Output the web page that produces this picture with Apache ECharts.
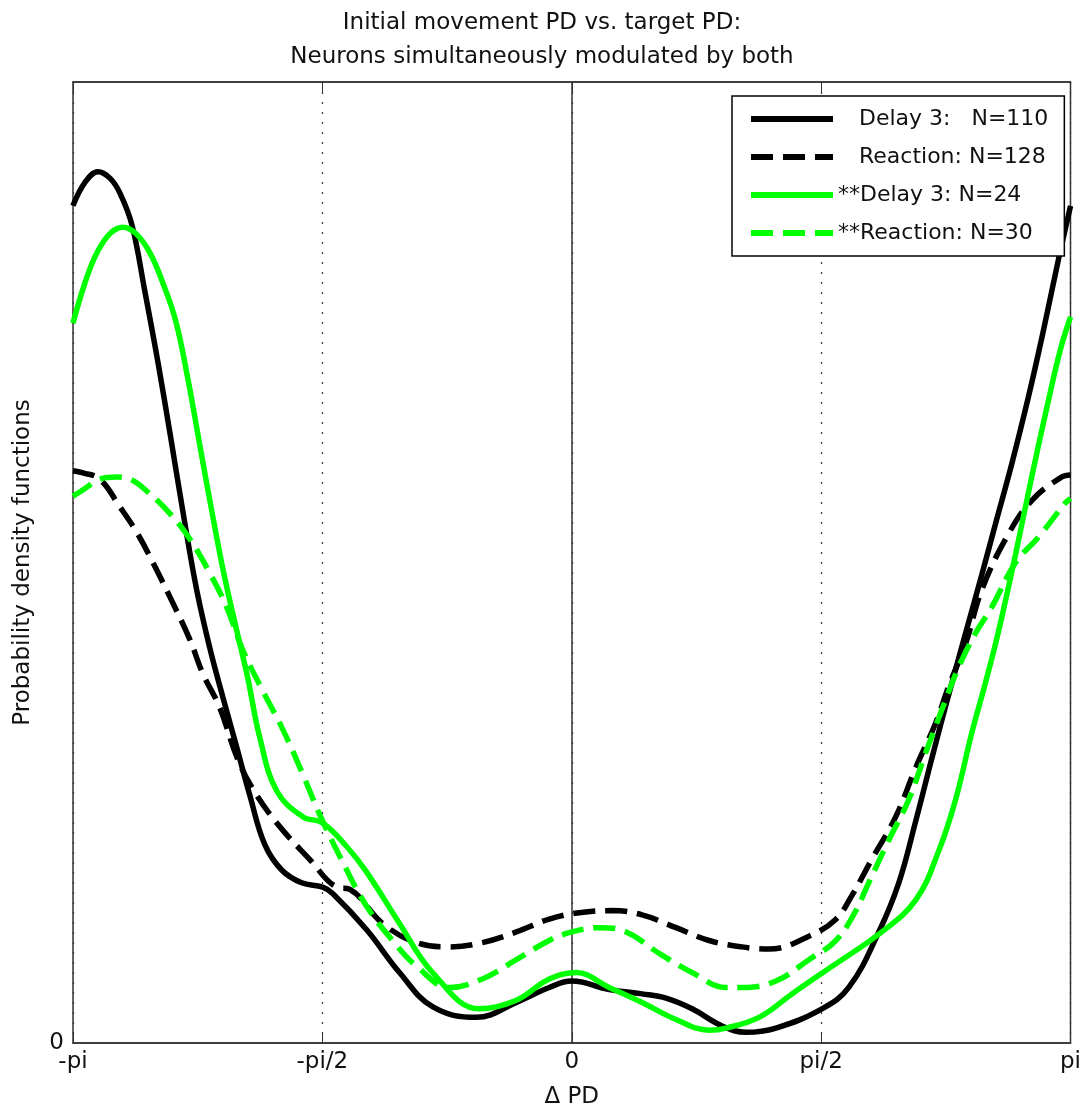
<!DOCTYPE html>
<html>
<head>
<meta charset="utf-8">
<script src="https://cdn.jsdelivr.net/npm/echarts@6/dist/echarts.min.js"></script>
<style>
  html, body { margin: 0; padding: 0; background: #fff; }
  #main { width: 1084px; height: 1114px; }
</style>
</head>
<body>
<div id="main"></div>
<script>
// x in radians (delta PD), y = probability density
const delay3 = [
    [-3.142, 0.392], [-3.066, 0.403], [-2.984, 0.408], [-2.909, 0.405], [-2.846, 0.398],
    [-2.770, 0.383], [-2.689, 0.352], [-2.607, 0.319], [-2.525, 0.283], [-2.443, 0.246],
    [-2.362, 0.212], [-2.280, 0.185], [-2.198, 0.162], [-2.116, 0.140], [-2.028, 0.116],
    [-1.934, 0.093], [-1.827, 0.081], [-1.701, 0.075], [-1.569, 0.073], [-1.506, 0.070],
    [-1.292, 0.053], [-1.085, 0.033], [-0.877, 0.017], [-0.601, 0.012], [-0.349, 0.019],
    [-0.142, 0.026], [0, 0.029], [0.236, 0.025], [0.443, 0.023], [0.594, 0.021],
    [0.758, 0.016], [0.947, 0.008], [1.098, 0.005], [1.286, 0.007], [1.576, 0.016],
    [1.745, 0.026], [1.934, 0.052], [2.060, 0.075], [2.167, 0.104], [2.267, 0.133],
    [2.374, 0.163], [2.481, 0.192], [2.582, 0.219], [2.676, 0.245], [2.771, 0.271],
    [2.878, 0.303], [2.972, 0.334], [3.066, 0.367], [3.142, 0.392]
];
const reaction = [
    [-3.142, 0.268], [-3.079, 0.267], [-2.972, 0.264], [-2.846, 0.251], [-2.739, 0.239],
    [-2.638, 0.225], [-2.532, 0.209], [-2.406, 0.189], [-2.324, 0.173], [-2.217, 0.157],
    [-2.110, 0.134], [-2.009, 0.119], [-1.858, 0.103], [-1.651, 0.086], [-1.481, 0.073],
    [-1.399, 0.072], [-1.192, 0.056], [-0.978, 0.047], [-0.770, 0.045], [-0.563, 0.047],
    [-0.349, 0.052], [-0.142, 0.058], [0.047, 0.061], [0.255, 0.062], [0.443, 0.060],
    [0.657, 0.054], [0.865, 0.048], [1.072, 0.045], [1.242, 0.044], [1.494, 0.050],
    [1.664, 0.058], [1.764, 0.069], [1.890, 0.086], [2.041, 0.106], [2.167, 0.129],
    [2.293, 0.150], [2.374, 0.167], [2.481, 0.187], [2.582, 0.212], [2.733, 0.236],
    [2.897, 0.254], [3.085, 0.265], [3.142, 0.266]
];
const delay3Both = [
    [-3.142, 0.337], [-3.066, 0.356], [-2.991, 0.370], [-2.909, 0.379], [-2.827, 0.382],
    [-2.745, 0.379], [-2.657, 0.370], [-2.576, 0.356], [-2.494, 0.338], [-2.418, 0.311],
    [-2.343, 0.280], [-2.267, 0.249], [-2.192, 0.220], [-2.116, 0.195], [-2.041, 0.171],
    [-1.965, 0.143], [-1.858, 0.118], [-1.695, 0.106], [-1.569, 0.103], [-1.418, 0.092],
    [-1.292, 0.080], [-1.085, 0.056], [-0.877, 0.033], [-0.582, 0.016], [-0.349, 0.020],
    [-0.142, 0.030], [0.028, 0.033], [0.236, 0.026], [0.443, 0.019], [0.657, 0.011],
    [0.865, 0.006], [0.972, 0.007], [1.179, 0.012], [1.387, 0.023], [1.601, 0.034],
    [1.953, 0.052], [2.167, 0.067], [2.312, 0.090], [2.418, 0.114], [2.519, 0.145],
    [2.607, 0.169], [2.689, 0.193], [2.796, 0.229], [2.897, 0.265], [3.003, 0.301],
    [3.079, 0.325], [3.142, 0.340]
];
const reactionBoth = [
    [-3.142, 0.256], [-3.079, 0.259], [-2.972, 0.264], [-2.865, 0.265], [-2.783, 0.264],
    [-2.701, 0.260], [-2.532, 0.248], [-2.406, 0.236], [-2.280, 0.220], [-2.173, 0.204],
    [-2.072, 0.184], [-1.947, 0.165], [-1.821, 0.147], [-1.695, 0.126], [-1.588, 0.107],
    [-1.431, 0.083], [-1.292, 0.064], [-1.129, 0.048], [-0.978, 0.036], [-0.770, 0.026],
    [-0.563, 0.030], [-0.349, 0.039], [-0.142, 0.048], [0, 0.052], [0.173, 0.054],
    [0.343, 0.052], [0.550, 0.042], [0.758, 0.033], [0.972, 0.026], [1.072, 0.026],
    [1.286, 0.029], [1.494, 0.039], [1.664, 0.048], [1.790, 0.062], [1.852, 0.072],
    [1.997, 0.095], [2.123, 0.114], [2.230, 0.136], [2.331, 0.156], [2.437, 0.176],
    [2.544, 0.192], [2.645, 0.204], [2.796, 0.225], [2.941, 0.237], [3.110, 0.253],
    [3.142, 0.255]
];
const seriesNames = ['   Delay 3:   N=110', '   Reaction: N=128', '**Delay 3: N=24', '**Reaction: N=30'];
const xTickLabels = ['-pi', '-pi/2', '0', 'pi/2', 'pi'];

const font = "'DejaVu Sans', 'Liberation Sans', Arial, sans-serif";
const halfPi = Math.PI / 2;

let myChart = echarts.init(document.getElementById('main'));

function curve(name, data, color, dashed) {
    return {
        name: name,
        type: 'line',
        data: data,
        smooth: 0.4,
        symbol: 'none',
        color: color,
        lineStyle: {
            color: color,
            width: 5.5,
            type: dashed ? [22, 10] : 'solid'
        }
    };
}

myChart.setOption({
    animation: false,
    backgroundColor: '#fff',
    textStyle: { fontFamily: font },
    title: {
        text: 'Initial movement PD vs. target PD:\nNeurons simultaneously modulated by both',
        left: 'center',
        top: 1,
        textStyle: { fontFamily: font, fontSize: 23, fontWeight: 'normal', color: '#111', lineHeight: 34 }
    },
    legend: {
        orient: 'vertical',
        left: 732,
        top: 96,
        padding: [11, 16, 11, 16],
        backgroundColor: '#fff',
        borderColor: '#000',
        borderWidth: 1.5,
        itemWidth: 82,
        itemHeight: 14,
        itemGap: 14,
        data: seriesNames,
        itemStyle: { opacity: 0 },
        lineStyle: { width: 6 },
        textStyle: { fontFamily: font, fontSize: 22, color: '#111', lineHeight: 24 }
    },
    grid: {
        left: 73,
        right: 12,
        top: 82,
        bottom: 71,
        show: true,
        borderColor: '#333',
        borderWidth: 1.5
    },
    xAxis: [{
        type: 'value',
        min: -Math.PI,
        max: Math.PI,
        interval: halfPi,
        name: 'Δ PD',
        nameLocation: 'middle',
        nameGap: 43,
        nameTextStyle: { fontFamily: font, fontSize: 23, color: '#111' },
        axisLine: { lineStyle: { color: '#333', width: 1.5 } },
        axisTick: { inside: true, length: 10, lineStyle: { color: '#333' } },
        axisLabel: {
            fontFamily: font, fontSize: 23, color: '#111', margin: 8,
            formatter: function (v) {
                return xTickLabels[Math.round(v / halfPi) + 2];
            }
        },
        splitLine: { show: true, lineStyle: { color: '#333', type: [2, 8], width: 1.2 } }
    }, {
        type: 'value',
        position: 'top',
        min: -Math.PI,
        max: Math.PI,
        interval: halfPi,
        axisLine: { lineStyle: { color: '#333', width: 1.5 } },
        axisTick: { inside: true, length: 10, lineStyle: { color: '#333' } },
        axisLabel: { show: false },
        splitLine: { show: false }
    }],
    yAxis: {
        type: 'value',
        min: 0,
        max: 0.45,
        interval: 0.45,
        name: 'Probability density functions',
        nameLocation: 'middle',
        nameGap: 38,
        nameTextStyle: { fontFamily: font, fontSize: 23, color: '#111' },
        axisLine: { show: true, lineStyle: { color: '#333', width: 1.5 } },
        axisTick: { show: false },
        axisLabel: {
            fontFamily: font, fontSize: 23, color: '#111', margin: 9,
            formatter: function (v) { return v === 0 ? '0' : ''; }
        },
        splitLine: { show: false }
    },
    series: [
        curve(seriesNames[0], delay3, '#000000', false),
        curve(seriesNames[1], reaction, '#000000', true),
        curve(seriesNames[2], delay3Both, '#00ff00', false),
        curve(seriesNames[3], reactionBoth, '#00ff00', true)
    ]
});
</script>
</body>
</html>
